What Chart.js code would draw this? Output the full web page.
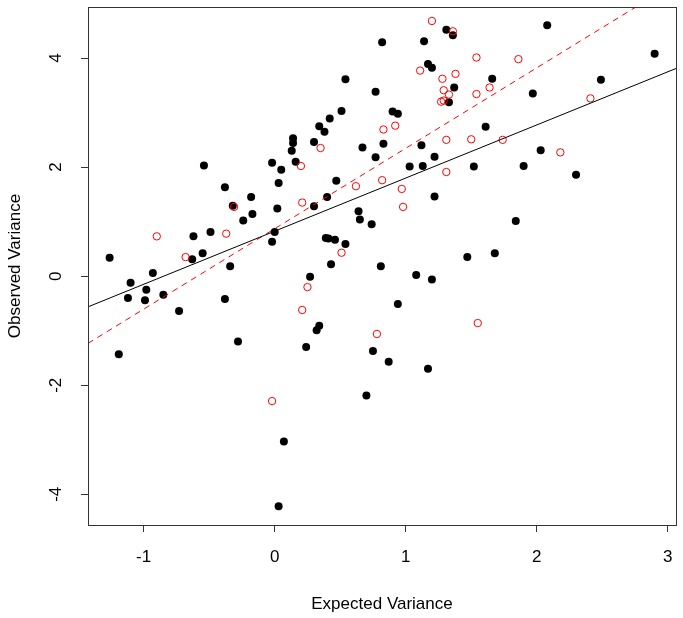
<!DOCTYPE html>
<html>
<head>
<meta charset="utf-8">
<script src="https://cdn.jsdelivr.net/npm/chart.js@4/dist/chart.umd.min.js"></script>
<style>
  html, body { margin: 0; padding: 0; background: #fff; }
  #wrap { width: 683px; height: 618px; }
</style>
</head>
<body>
<div id="wrap"><canvas id="chart" width="683" height="618"></canvas></div>
<script>
// Black filled points
const blackX = [-1.26, -1.19, -1.12, -1.10, -0.99, -0.98, -0.93, -0.85, -0.73, -0.63,
    -0.62, -0.55, -0.54, -0.49, -0.38, -0.38, -0.34, -0.32, -0.28, -0.24,
    -0.18, -0.17, -0.02, -0.02, 0.00, 0.02, 0.03, 0.05, 0.07, 0.03,
    0.13, 0.14, 0.14, 0.16, 0.24, 0.27, 0.30, 0.30, 0.32, 0.34,
    0.34, 0.38, 0.39, 0.41, 0.40, 0.42, 0.43, 0.46, 0.47, 0.51,
    0.54, 0.54, 0.64, 0.65, 0.67, 0.70, 0.74, 0.75, 0.77, 0.77,
    0.81, 0.82, 0.83, 0.87, 0.90, 0.94, 0.94, 1.03, 1.08, 1.12,
    1.13, 1.14, 1.17, 1.17, 1.20, 1.20, 1.22, 1.22, 1.31, 1.33,
    1.36, 1.37, 1.47, 1.52, 1.61, 1.66, 1.68, 1.84, 1.90, 1.97,
    2.03, 2.08, 2.30, 2.49, 2.90];
const blackY = [0.34, -1.43, -0.40, -0.12, -0.44, -0.25, 0.06, -0.34, -0.64, 0.31,
    0.73, 0.42, 2.03, 0.81, 1.63, -0.42, 0.18, 1.29, -1.20, 1.02,
    1.45, 1.14, 0.63, 2.08, 0.81, 1.24, 1.71, 1.95, -3.03, -4.22,
    2.30, 2.53, 2.44, 2.10, -1.30, -0.01, 2.46, 1.28, -0.99, -0.91,
    2.75, 2.65, 0.70, 0.69, 1.45, 2.89, 0.22, 0.67, 1.75, 3.03,
    3.61, 0.59, 1.19, 1.04, 2.36, -2.19, 0.95, -1.37, 3.38, 2.18,
    0.18, 4.29, 2.43, -1.57, 3.02, -0.51, 2.98, 2.01, 0.02, 2.40,
    2.02, 4.31, -1.70, 3.89, 3.82, -0.06, 2.19, 1.46, 4.52, 3.19,
    4.42, 3.46, 0.35, 2.01, 2.74, 3.62, 0.42, 1.01, 2.02, 3.35,
    2.31, 4.60, 1.86, 3.60, 4.08];

// Red open points
const redX = [-0.90, -0.68, -0.37, -0.31, -0.02, 0.20, 0.21, 0.21, 0.25, 0.35,
    0.51, 0.62, 0.78, 0.82, 0.83, 0.92, 0.97, 0.98, 1.11, 1.20,
    1.27, 1.29, 1.28, 1.29, 1.31, 1.31, 1.33, 1.36, 1.38, 1.50,
    1.54, 1.54, 1.55, 1.64, 1.74, 1.86, 2.18, 2.41];
const redY = [0.73, 0.35, 0.78, 1.27, -2.29, 2.02, 1.35, -0.62, -0.20, 2.35,
    0.43, 1.65, -1.06, 1.76, 2.69, 2.76, 1.60, 1.27, 3.77, 4.68,
    3.20, 3.22, 3.62, 3.41, 1.91, 2.50, 3.33, 4.49, 3.71, 2.51,
    3.34, 4.01, -0.86, 3.46, 2.50, 3.98, 2.27, 3.26];

// Fitted lines: intercept, slope
const blackFit = [0.825, 0.974];
const redFit = [0.87, 1.475];

// Axes
const xRange = [-1.425, 3.063];
const yRange = [-4.563, 4.936];
const xTicks = [-1, 0, 1, 2, 3];
const yTicks = [-4, -2, 0, 2, 4];

const toPoints = (xs, ys) => xs.map((x, i) => ({ x: x, y: ys[i] }));
const fitLine = (fit) => xRange.map(x => ({ x: x, y: fit[0] + fit[1] * x }));

const fontFamily = '"Liberation Sans", Arial, sans-serif';

// Box around the plot and vertical y tick labels (R style)
const rFrame = {
    id: 'rFrame',
    afterDraw(chart) {
        const { ctx, chartArea: a } = chart;
        ctx.save();
        ctx.strokeStyle = '#333';
        ctx.lineWidth = 1;
        ctx.strokeRect(a.left + 0.5, a.top + 0.5, a.right - a.left, a.bottom - a.top);
        const ys = chart.scales.y;
        ctx.fillStyle = '#000';
        ctx.font = '17px ' + fontFamily;
        ctx.textAlign = 'center';
        ctx.textBaseline = 'middle';
        yTicks.forEach(v => {
            ctx.save();
            ctx.translate(56, ys.getPixelForValue(v));
            ctx.rotate(-Math.PI / 2);
            ctx.fillText(String(v), 0, 0);
            ctx.restore();
        });
        ctx.restore();
    }
};

const config = {
    type: 'scatter',
    data: {
        datasets: [
            {
                label: 'fit',
                type: 'line',
                data: fitLine(blackFit),
                borderColor: '#000',
                borderWidth: 1,
                pointRadius: 0,
                fill: false,
                order: -2
            },
            {
                label: 'fit red',
                type: 'line',
                data: fitLine(redFit),
                borderColor: '#ff0000',
                borderWidth: 1,
                borderDash: [6, 5],
                pointRadius: 0,
                fill: false,
                order: -1
            },
            {
                label: 'red',
                data: toPoints(redX, redY),
                pointRadius: 3.7,
                pointBackgroundColor: 'rgba(0,0,0,0)',
                pointBorderColor: '#ff0000',
                pointBorderWidth: 1,
                order: 0
            },
            {
                label: 'black',
                data: toPoints(blackX, blackY),
                pointRadius: 4,
                pointBackgroundColor: '#000',
                pointBorderColor: '#000',
                pointBorderWidth: 0,
                order: 1
            }
        ]
    },
    options: {
        responsive: false,
        animation: false,
        layout: { padding: { top: 7, right: 7, left: 0, bottom: 0 } },
        plugins: {
            legend: { display: false },
            tooltip: { enabled: false }
        },
        scales: {
            x: {
                type: 'linear',
                min: xRange[0],
                max: xRange[1],
                afterFit: s => { s.height = 93; s.paddingLeft = 0; s.paddingRight = 0; },
                afterBuildTicks: s => { s.ticks = xTicks.map(v => ({ value: v })); },
                grid: { drawOnChartArea: false, drawTicks: true, tickLength: 7, color: '#333' },
                border: { display: false },
                ticks: {
                    padding: 15,
                    color: '#000',
                    font: { family: fontFamily, size: 17 },
                    maxRotation: 0,
                    callback: v => String(v)
                },
                title: {
                    display: true,
                    text: 'Expected Variance',
                    color: '#000',
                    font: { family: fontFamily, size: 17 },
                    padding: { top: 0, bottom: 3 }
                }
            },
            y: {
                type: 'linear',
                min: yRange[0],
                max: yRange[1],
                afterFit: s => { s.width = 88; s.paddingTop = 0; s.paddingBottom = 0; },
                afterBuildTicks: s => { s.ticks = yTicks.map(v => ({ value: v })); },
                grid: { drawOnChartArea: false, drawTicks: true, tickLength: 7, color: '#333' },
                border: { display: false },
                ticks: { display: false },
                title: {
                    display: true,
                    text: 'Observed Variance',
                    color: '#000',
                    font: { family: fontFamily, size: 17 },
                    padding: { top: 5, bottom: 0 }
                }
            }
        }
    },
    plugins: [rFrame]
};

const chart = new Chart(document.getElementById('chart'), config);
</script>
</body>
</html>
